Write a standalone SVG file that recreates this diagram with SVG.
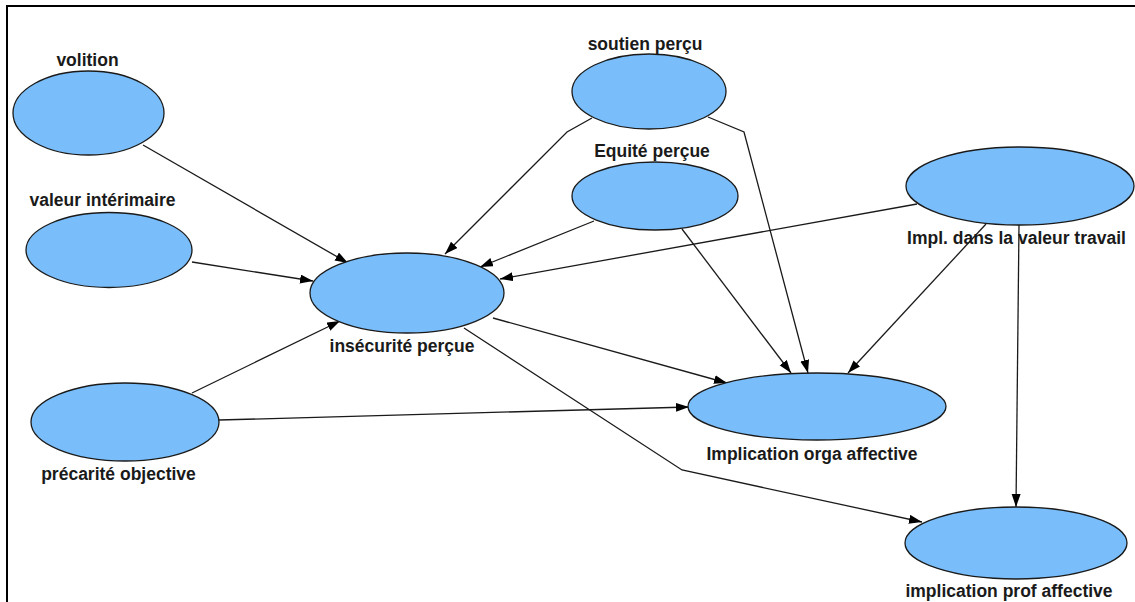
<svg xmlns="http://www.w3.org/2000/svg" width="1135" height="602" viewBox="0 0 1135 602">
<style>
.n ellipse{fill:#79befa;stroke:#1a1a1a;stroke-width:1.3}
.n text{font-family:"Liberation Sans",Arial,sans-serif;font-weight:bold;font-size:17.5px;fill:#1a1a1a;text-anchor:middle}
#edges path{fill:none;stroke:#1a1a1a;stroke-width:1.3;marker-end:url(#ah)}
</style>
<defs>
<marker id="ah" markerUnits="userSpaceOnUse" markerWidth="14" markerHeight="10" refX="13" refY="4.5" orient="auto">
<path d="M0,0 L13,4.5 L0,9 z" fill="#000"/>
</marker>
</defs>
<rect width="1135" height="602" fill="#fff"/>
<path d="M7,602 V6 H1135" fill="none" stroke="#000" stroke-width="2"/>
<g id="edges">
<path d="M143,145 L348,263"/>
<path d="M192,262 L313,281"/>
<path d="M192,393 L340,321"/>
<path d="M219,420 L689,407"/>
<path d="M592,118 L567,132 L445,254"/>
<path d="M708,117 L744,132 L808,373"/>
<path d="M594,221 L480,267"/>
<path d="M682,229 L791,373"/>
<path d="M917,204 L500,279"/>
<path d="M986,224 L848,373"/>
<path d="M1019,225 L1016,507"/>
<path d="M493,318 L727,383"/>
<path d="M464,328 L682,470 L922,522"/>
</g>
<g id="volition" class="n"><ellipse cx="88.5" cy="113" rx="75.5" ry="42"/><text x="87.5" y="65.5">volition</text></g>
<g id="valeur" class="n"><ellipse cx="109" cy="250" rx="83" ry="37.5"/><text x="102.5" y="206">valeur intérimaire</text></g>
<g id="soutien" class="n"><ellipse cx="649" cy="91.5" rx="77" ry="37.5"/><text x="645" y="50">soutien perçu</text></g>
<g id="equite" class="n"><ellipse cx="655" cy="196" rx="83" ry="34"/><text x="652" y="157">Equité perçue</text></g>
<g id="implvaleur" class="n"><ellipse cx="1020" cy="186" rx="114" ry="39"/><text x="1016.5" y="244">Impl. dans la valeur travail</text></g>
<g id="insecurite" class="n"><ellipse cx="407" cy="293" rx="97" ry="40"/><text x="402" y="352">insécurité perçue</text></g>
<g id="precarite" class="n"><ellipse cx="125" cy="422" rx="94" ry="39"/><text x="118.5" y="480">précarité objective</text></g>
<g id="orga" class="n"><ellipse cx="817" cy="406.5" rx="129" ry="33.5"/><text x="812" y="460">Implication orga affective</text></g>
<g id="prof" class="n"><ellipse cx="1016" cy="543" rx="111" ry="36"/><text x="1009" y="597">implication prof affective</text></g>
</svg>
